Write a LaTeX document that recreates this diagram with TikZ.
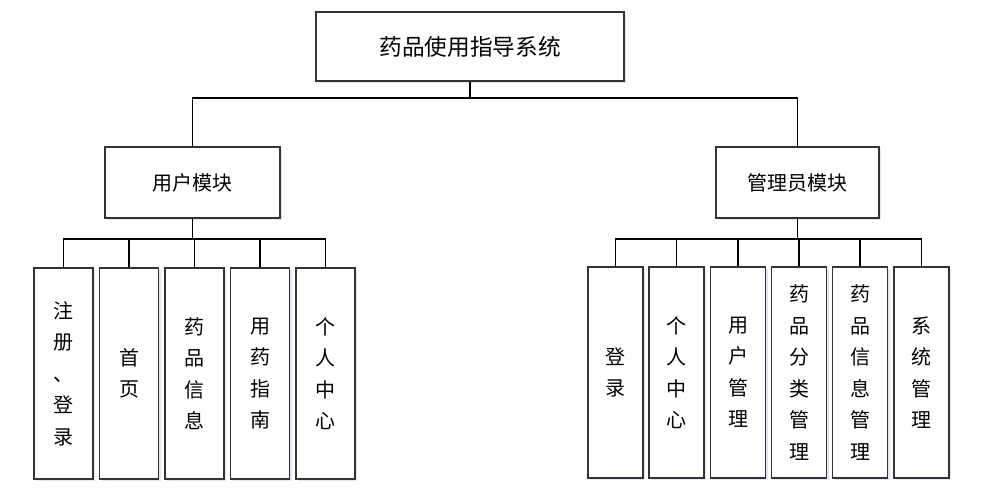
\documentclass[tikz,border=0pt]{standalone}
\usepackage{fontspec}
\setmainfont{Noto Sans CJK SC}
\usetikzlibrary{shadows}

\tikzset{
  box/.style={draw=black!80, line width=0.8pt, fill=white, inner sep=0pt,
    drop shadow={shadow xshift=1.5pt, shadow yshift=-1.5pt, fill=blue!40!gray, opacity=0.15}},
  topbox/.style={box, minimum width=231pt, minimum height=51.75pt,
    font=\fontsize{17}{20}\selectfont},
  modbox/.style={box, minimum height=53.25pt, font=\fontsize{15}{18}\selectfont},
  leafbox/.style={box, minimum height=158.25pt, align=center,
    font=\fontsize{15}{23.6}\selectfont},
  link/.style={line width=1pt, black}
}

\begin{document}
\begin{tikzpicture}[x=0.75pt, y=-0.75pt]
  \useasboundingbox (0, 0) rectangle (1001, 491);

  % top
  \node[topbox] (sys) at (470, 46.5) {药品使用指导系统};

  % modules
  \node[modbox, minimum width=131.25pt] (user) at (192.5, 182.5) {用户模块};
  \node[modbox, minimum width=122.25pt] (admin) at (797.5, 182.5) {管理员模块};

  % user leaves
  \node[leafbox, minimum width=44.25pt] (u1) at (63.5, 373.5) {注\\册\\、\\登\\录};
  \node[leafbox, minimum width=44.25pt] (u2) at (129, 373.5) {首\\页};
  \node[leafbox, minimum width=44.25pt] (u3) at (194.5, 373.5) {药\\品\\信\\息};
  \node[leafbox, minimum width=44.25pt] (u4) at (260, 373.5) {用\\药\\指\\南};
  \node[leafbox, minimum width=44.25pt] (u5) at (325.5, 373.5) {个\\人\\中\\心};

  % admin leaves
  \node[leafbox, minimum width=41.25pt] (a1) at (615.5, 372.5) {登\\录};
  \node[leafbox, minimum width=41.25pt] (a2) at (676.5, 372.5) {个\\人\\中\\心};
  \node[leafbox, minimum width=41.25pt] (a3) at (738, 372.5) {用\\户\\管\\理};
  \node[leafbox, minimum width=41.25pt] (a4) at (799, 372.5) {药\\品\\分\\类\\管\\理};
  \node[leafbox, minimum width=41.25pt] (a5) at (860, 372.5) {药\\品\\信\\息\\管\\理};
  \node[leafbox, minimum width=41.25pt] (a6) at (921.5, 372.5) {系\\统\\管\\理};

  % buses
  \coordinate (bus) at (470, 98);
  \coordinate (ubus) at (192.5, 239);
  \coordinate (abus) at (797.5, 239);

  \draw[link] (sys) -- (bus);
  \draw[link] (user.north) -- (user.north |- bus) -- (admin.north |- bus) -- (admin.north);

  \draw[link] (user) -- (ubus);
  \draw[link] (u1.north) -- (u1.north |- ubus) -- (u5.north |- ubus) -- (u5.north);
  \draw[link] (u2.north) -- (u2.north |- ubus);
  \draw[link] (u3.north) -- (u3.north |- ubus);
  \draw[link] (u4.north) -- (u4.north |- ubus);

  \draw[link] (admin) -- (abus);
  \draw[link] (a1.north) -- (a1.north |- abus) -- (a6.north |- abus) -- (a6.north);
  \draw[link] (a2.north) -- (a2.north |- abus);
  \draw[link] (a3.north) -- (a3.north |- abus);
  \draw[link] (a4.north) -- (a4.north |- abus);
  \draw[link] (a5.north) -- (a5.north |- abus);
\end{tikzpicture}
\end{document}
